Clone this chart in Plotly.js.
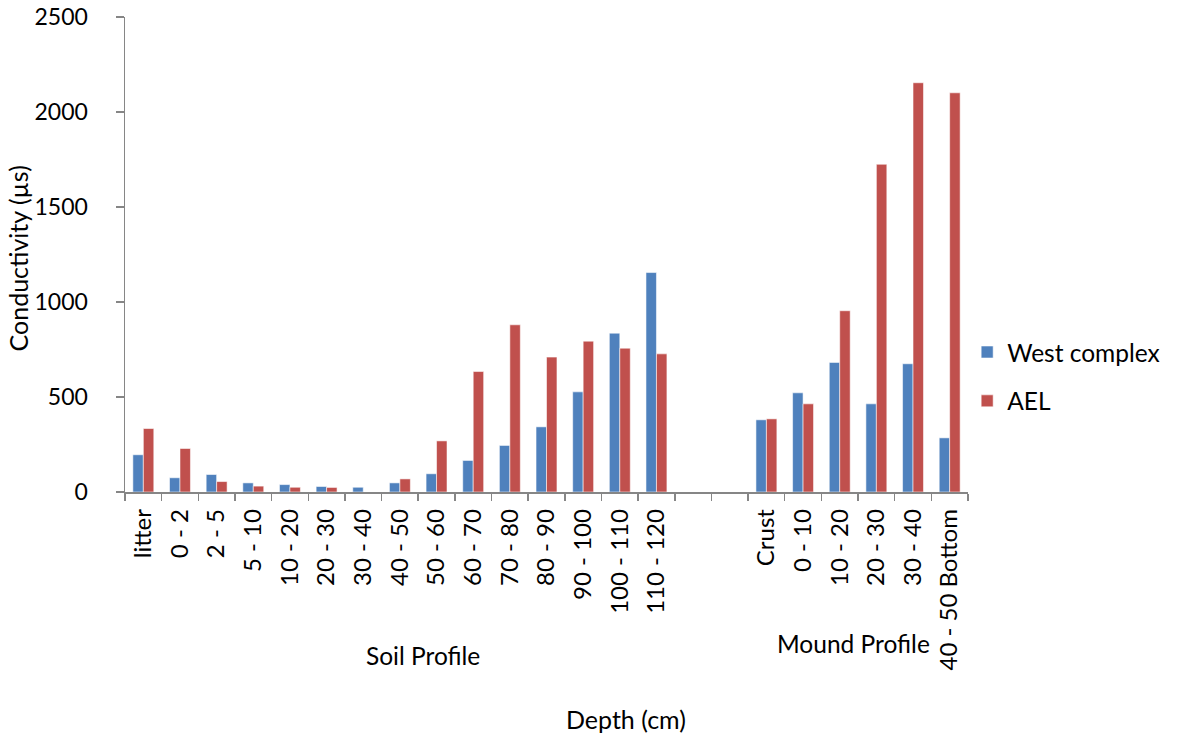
<!DOCTYPE html>
<html>
<head>
<meta charset="utf-8">
<script src="https://cdn.plot.ly/plotly-3.0.1.min.js"></script>
<style>
  html, body { margin: 0; padding: 0; background: #fff; }
  #chart { width: 1178px; height: 735px; }
</style>
</head>
<body>
<div id="chart"></div>
<script>
// Depth classes along the x axis; the two empty slots separate the soil and mound profiles
const categoryKeys = [
  'soil-litter', 'soil-0-2', 'soil-2-5', 'soil-5-10', 'soil-10-20', 'soil-20-30',
  'soil-30-40', 'soil-40-50', 'soil-50-60', 'soil-60-70', 'soil-70-80', 'soil-80-90',
  'soil-90-100', 'soil-100-110', 'soil-110-120', 'gap-1', 'gap-2',
  'mound-crust', 'mound-0-10', 'mound-10-20', 'mound-20-30', 'mound-30-40', 'mound-40-50'
];
const depthLabels = [
  'litter', '0 - 2', '2 - 5', '5 - 10', '10 - 20', '20 - 30',
  '30 - 40', '40 - 50', '50 - 60', '60 - 70', '70 - 80', '80 - 90',
  '90 - 100', '100 - 110', '110 - 120', '', '',
  'Crust', '0 - 10', '10 - 20', '20 - 30', '30 - 40', '40 - 50 Bottom'
];

// Conductivity (µs)
const westComplex = [
  196, 75, 92, 48, 39, 29,
  25, 48, 96, 166, 245, 343,
  527, 836, 1155, null, null,
  380, 522, 682, 464, 675, 285
];
const ael = [
  334, 229, 55, 31, 25, 24,
  null, 69, 269, 634, 880, 710,
  794, 757, 727, null, null,
  385, 464, 954, 1725, 2154, 2101
];

const seriesNames = ['West complex', 'AEL'];
const groupLabels = ['Soil Profile', 'Mound Profile'];
const xTitle = 'Depth (cm)';
const yTitle = 'Conductivity (µs)';

const FONT = 'Lato, "Open Sans", sans-serif';
const AXIS_GREY = '#868686';
const textFont = (size) => ({ family: FONT, size: size, color: '#000' });

const traces = [
  {
    type: 'bar', name: seriesNames[0], x: categoryKeys, y: westComplex,
    legendgroup: 'a',
    marker: { color: '#4F81BD', line: { color: 'rgba(255,255,255,0.55)', width: 1 } },
    hoverinfo: 'y'
  },
  {
    type: 'bar', name: seriesNames[1], x: categoryKeys, y: ael,
    legendgroup: 'b',
    marker: { color: '#C0504D', line: { color: 'rgba(255,255,255,0.55)', width: 1 } },
    hoverinfo: 'y'
  }
];

const layout = {
  width: 1178, height: 735,
  margin: { l: 125, r: 210, t: 17, b: 243, pad: 0 },
  paper_bgcolor: '#fff', plot_bgcolor: '#fff',
  font: textFont(24),
  barmode: 'group',
  bargap: 0.4286,
  bargroupgap: 0,
  showlegend: true,
  legend: {
    x: 0.999, xanchor: 'left', y: 0.243, yanchor: 'middle',
    font: textFont(24.5),
    tracegroupgap: 14,
    bgcolor: 'rgba(0,0,0,0)'
  },
  xaxis: {
    type: 'category',
    tickmode: 'array', tickvals: categoryKeys, ticktext: depthLabels,
    tickson: 'boundaries',
    tickangle: -90,
    ticks: 'outside', ticklen: 7, tickwidth: 1.5, tickcolor: AXIS_GREY,
    showline: true, linecolor: AXIS_GREY, linewidth: 1.5,
    showgrid: false, zeroline: false,
    ticklabelstandoff: 6,
    tickfont: textFont(24),
    automargin: false
  },
  yaxis: {
    range: [0, 2500], dtick: 500, tick0: 0,
    ticks: 'outside', ticklen: 8, tickwidth: 1.5, tickcolor: AXIS_GREY,
    showline: true, linecolor: AXIS_GREY, linewidth: 1.5,
    showgrid: false, zeroline: false,
    ticklabelstandoff: 23,
    tickfont: textFont(23),
    automargin: false
  },
  annotations: [
    {
      text: yTitle, xref: 'paper', yref: 'paper', textangle: -90,
      x: -0.1258, y: 0.4916, xanchor: 'center', yanchor: 'middle',
      showarrow: false, font: textFont(25)
    },
    {
      text: groupLabels[0], xref: 'paper', yref: 'paper',
      x: 0.3535, y: -0.344, xanchor: 'center', yanchor: 'middle',
      showarrow: false, font: textFont(24.5)
    },
    {
      text: groupLabels[1], xref: 'paper', yref: 'paper',
      x: 0.864, y: -0.319, xanchor: 'center', yanchor: 'middle',
      showarrow: false, font: textFont(24.5)
    },
    {
      text: xTitle, xref: 'paper', yref: 'paper',
      x: 0.594, y: -0.477, xanchor: 'center', yanchor: 'middle',
      showarrow: false, font: textFont(25)
    }
  ]
};

Plotly.newPlot('chart', traces, layout, { displayModeBar: false, staticPlot: true });
</script>
</body>
</html>
